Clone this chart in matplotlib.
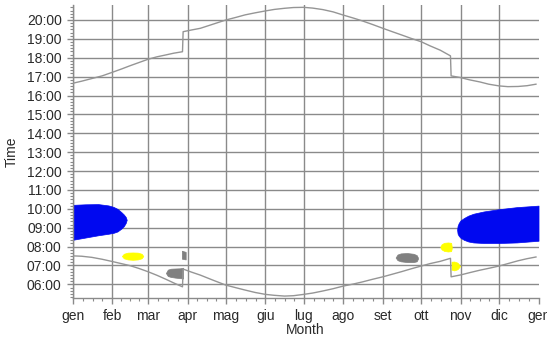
import matplotlib
matplotlib.use("Agg")
import matplotlib.pyplot as plt
from matplotlib.ticker import FixedLocator, MultipleLocator

plt.rcParams['font.family'] = ['Liberation Sans', 'DejaVu Sans']
plt.rcParams['font.size'] = 10

# month starts (day of year) and Italian month names
month_days = [0, 31, 59, 90, 120, 151, 181, 212, 243, 273, 304, 334, 365]
month_names = ['gen', 'feb', 'mar', 'apr', 'mag', 'giu', 'lug',
               'ago', 'set', 'ott', 'nov', 'dic', 'gen']
hours = list(range(6, 21))

# sunrise / sunset in decimal hours, with the daylight-saving jumps
sun_days = [0, 7, 15, 23, 31, 38, 45, 52, 59, 66, 73, 79, 86,
            86.5, 93, 100, 110, 120, 128, 135, 143, 151, 158, 166, 173,
            181, 188, 196, 204, 212, 220, 227, 235, 243, 250, 258, 265,
            273, 280, 288, 296,
            296.5, 304, 311, 319, 326, 334, 341, 349, 356, 363]
sunset = [16.65, 16.76, 16.9, 17.04, 17.23, 17.4, 17.58, 17.75, 17.92,
          18.05, 18.15, 18.24, 18.32,
          19.38, 19.47, 19.56, 19.78, 20.0, 20.14, 20.27, 20.38, 20.48,
          20.56, 20.62, 20.66, 20.67, 20.63, 20.55, 20.43, 20.26, 20.1,
          19.95, 19.76, 19.56, 19.39, 19.2, 19.03, 18.85, 18.63, 18.4,
          18.1,
          17.04, 16.95, 16.83, 16.72, 16.6, 16.51, 16.47, 16.48, 16.52,
          16.6]
sunrise = [7.51, 7.49, 7.43, 7.33, 7.21, 7.1, 6.99, 6.84, 6.67, 6.48,
           6.27, 6.08, 5.87,
           6.81, 6.65, 6.49, 6.22, 5.96, 5.82, 5.7, 5.57, 5.47, 5.42, 5.38,
           5.4, 5.47, 5.54, 5.65, 5.77, 5.91, 6.02, 6.13, 6.27, 6.40, 6.53,
           6.68, 6.82, 6.97, 7.1, 7.22, 7.38,
           6.40, 6.5, 6.62, 6.75, 6.85, 6.97, 7.1, 7.25, 7.36, 7.45]

# winter glare windows (blue)
glare1_days = [0, 10, 20, 28, 32, 35, 38, 40, 41.5, 42.3]
glare1_top = [10.21, 10.24, 10.25, 10.18, 10.1, 10.0, 9.83, 9.7, 9.57, 9.42]
glare1_bot = [8.36, 8.48, 8.6, 8.68, 8.73, 8.8, 8.95, 9.08, 9.25, 9.42]

glare2_days = [301.2, 301.6, 302.5, 303.8, 306.5, 310, 314, 322, 334, 348,
               365]
glare2_top = [8.89, 9.1, 9.25, 9.38, 9.51, 9.64, 9.74, 9.86, 9.98, 10.09,
              10.17]
glare2_bot = [8.89, 8.68, 8.57, 8.47, 8.36, 8.27, 8.22, 8.19, 8.19, 8.22,
              8.31]

# yellow spots
yel1_days = [38.5, 40, 43, 47, 51, 54, 55.3]
yel1_top = [7.5, 7.62, 7.68, 7.69, 7.68, 7.62, 7.5]
yel1_bot = [7.5, 7.38, 7.32, 7.30, 7.32, 7.38, 7.5]

yel2_days = [288, 289, 291, 294, 296.5, 297]
yel2_top = [7.98, 8.12, 8.2, 8.22, 8.2, 8.0]
yel2_bot = [7.98, 7.85, 7.77, 7.74, 7.76, 7.9]

yel3_days = [296.8, 299, 301.5, 303.6]
yel3_top = [7.2, 7.21, 7.15, 6.97]
yel3_bot = [6.78, 6.74, 6.8, 6.97]

# gray spots
gray1_days = [73, 74.5, 77, 80, 84, 86.5]
gray1_top = [6.6, 6.78, 6.83, 6.84, 6.85, 6.88]
gray1_bot = [6.6, 6.44, 6.39, 6.36, 6.33, 6.31]

gray2_days = [85.5, 88.5]
gray2_top = [7.78, 7.72]
gray2_bot = [7.36, 7.32]

gray3_days = [253, 254.5, 257, 262, 267, 269.5, 270.5]
gray3_top = [7.42, 7.58, 7.64, 7.66, 7.62, 7.55, 7.42]
gray3_bot = [7.42, 7.28, 7.22, 7.18, 7.18, 7.22, 7.35]

grid_c = '#8a8a8a'
text_c = '#2a2a2a'

fig = plt.figure(figsize=(5.47, 3.38), dpi=100)
ax = fig.add_axes([0.133, 0.119, 0.8515, 0.866])

ax.plot(sun_days, sunset, color='#959595', lw=1, zorder=3)
ax.plot(sun_days, sunrise, color='#959595', lw=1, zorder=3)

for d, lo, hi, c in [
    (glare1_days, glare1_bot, glare1_top, '#0008f0'),
    (glare2_days, glare2_bot, glare2_top, '#0008f0'),
    (yel1_days, yel1_bot, yel1_top, '#ffff00'),
    (yel2_days, yel2_bot, yel2_top, '#ffff00'),
    (yel3_days, yel3_bot, yel3_top, '#ffff00'),
    (gray1_days, gray1_bot, gray1_top, '#808080'),
    (gray2_days, gray2_bot, gray2_top, '#808080'),
    (gray3_days, gray3_bot, gray3_top, '#808080'),
]:
    ax.fill_between(d, lo, hi, color=c, lw=0.5, edgecolor=c, zorder=2)

ax.set_xlim(0, 365)
ax.set_ylim(5.29, 20.79)

ax.xaxis.set_major_locator(FixedLocator(month_days))
ax.set_xticklabels(month_names)
minor_x = []
for a, b in zip(month_days[:-1], month_days[1:]):
    minor_x += [a + (b - a) * k / 4 for k in (1, 2, 3)]
ax.xaxis.set_minor_locator(FixedLocator(minor_x))

ax.set_yticks(hours)
ax.set_yticklabels([f'{h:02d}:00' for h in hours])
ax.yaxis.set_minor_locator(MultipleLocator(1 / 6))

ax.grid(True, which='major', color=grid_c, lw=1, zorder=0)
ax.set_axisbelow(True)
# no grid line on the closing "gen" tick
ax.xaxis.get_gridlines()[-1].set_visible(False)

for s in ('top', 'right'):
    ax.spines[s].set_visible(False)
for s in ('left', 'bottom'):
    ax.spines[s].set_color(grid_c)
    ax.spines[s].set_linewidth(1)

ax.tick_params(which='major', length=4, width=1, color=grid_c,
               labelcolor=text_c, pad=4)
ax.tick_params(which='minor', length=2.2, width=0.8, color=grid_c)

ax.set_xlabel('Month', color=text_c, labelpad=0)
ax.set_ylabel('Time', color=text_c, labelpad=6)

fig.savefig('out.png', dpi=100)
